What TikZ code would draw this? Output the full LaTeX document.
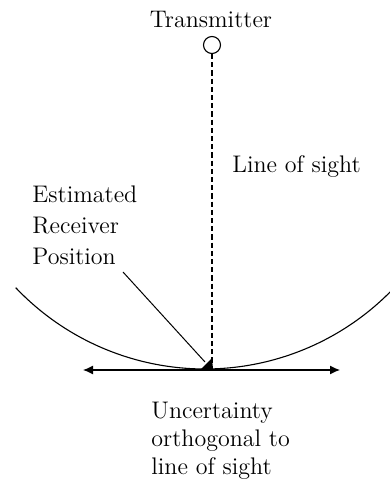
\documentclass[tikz,border=0pt]{standalone}
\usepackage{fontspec}
\usepackage{tikz}
\usetikzlibrary{arrows.meta}
\tikzset{
  lbl/.style={inner sep=0pt, font=\fontsize{12}{15.5}\selectfont},
  los/.style={dash pattern=on 2.6pt off 1.5pt, line width=0.6pt},
  ptr/.style={line width=0.5pt},
  unc/.style={{Latex[length=5pt,width=4.5pt]}-{Latex[length=5pt,width=4.5pt]}, line width=0.6pt},
  sph/.style={line width=0.55pt},
}

\begin{document}
\begin{tikzpicture}[x=0.5pt,y=0.5pt]
  \useasboundingbox (0,0) rectangle (390,483);
  % --- transmitter ---
  \node[lbl, anchor=base] (txlbl) at (211,455) {Transmitter};
  \node[draw, circle, minimum size=8.5pt, inner sep=0pt, line width=0.55pt] (tx) at (212,438) {};
  \coordinate (rx) at (212,113);
  \draw[los] (tx.south) -- (rx);
  \node[lbl, anchor=base west] (loslbl) at (232,310) {Line of sight};

  % --- range sphere ---
  \draw[sph] (205,375) ++(223.5:261) arc (223.5:315.5:261);

  % --- receiver ---
  \fill (200,113) -- (213,113) -- (212,125) -- cycle;
  \node[lbl, anchor=north west, align=left] (est) at (32,298)
    {Estimated\\Receiver\\Position};
  \coordinate (ptrA) at (123,211);
  \coordinate (ptrB) at (205,121);
  \draw[ptr] (ptrA) -- (ptrB);

  % --- uncertainty ---
  \coordinate (uncL) at (83,113);
  \coordinate (uncR) at (340,113);
  \draw[unc] (uncL) -- (uncR);
  \node[lbl, anchor=north west, align=left, font=\fontsize{12}{14}\selectfont] (unclbl) at (151,81)
    {Uncertainty\\orthogonal to\\line of sight};
\end{tikzpicture}
\end{document}
